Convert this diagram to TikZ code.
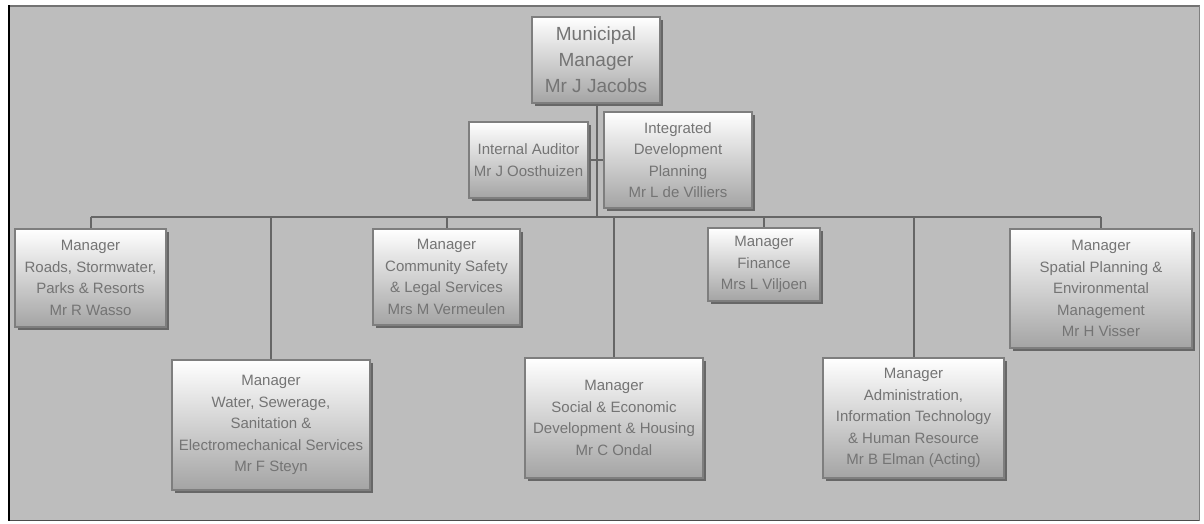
\documentclass[tikz,border=0pt]{standalone}
\usepackage{fontspec}
\setmainfont{Liberation Sans}
\usetikzlibrary{shadows}
\definecolor{panel}{HTML}{BDBDBD}
\definecolor{wire}{HTML}{666666}
\definecolor{boxline}{HTML}{7E7E7E}
\definecolor{boxtext}{HTML}{747474}
\definecolor{boxbottom}{HTML}{A4A4A4}
\tikzset{
  post/.style={draw=boxline, line width=1.2pt, top color=white, bottom color=boxbottom,
    text=boxtext, align=center, inner sep=0pt,
    font=\fontsize{15}{21.5}\selectfont,
    drop shadow={shadow xshift=3pt, shadow yshift=-3pt, fill=black, opacity=.45}},
  link/.style={draw=wire, line width=2pt}
}
\begin{document}
\begin{tikzpicture}[x=1pt, y=-1pt]
\useasboundingbox (0,0) rectangle (1204,523);
% panel behind the chart
\fill[white] (0,0) rectangle (1204,523);
\fill[panel] (9,6) rectangle (1200,521);
\draw[black!55, line width=2pt] (9,6) -- (1200,6);
\draw[black!70, line width=1pt] (9,520.5) -- (1200,520.5);
\draw[black!50, line width=0.6pt] (1199.5,6) -- (1199.5,521);
\draw[black, line width=2.2pt] (9,5) -- (9,521);

% connectors (drawn first so the boxes sit on top)
\coordinate (bus) at (597,217);
\coordinate (staff) at (597,160);

% top level
\node[post, minimum width=128pt, minimum height=86pt,
      font=\fontsize{19}{26}\selectfont] (mm) at (596,60)
      {Municipal\\Manager\\Mr J Jacobs};
\node[post, minimum width=119pt, minimum height=76pt] (aud) at (528.5,160)
      {Internal Auditor\\Mr J Oosthuizen};
\node[post, minimum width=148pt, minimum height=96pt] (idp) at (678,160)
      {Integrated\\Development\\Planning\\Mr L de Villiers};

% directorates
\node[post, minimum width=151pt, minimum height=98pt] (roads) at (90.5,278)
      {Manager\\Roads, Stormwater,\\Parks \& Resorts\\Mr R Wasso};
\node[post, minimum width=198pt, minimum height=130pt] (water) at (271,425)
      {Manager\\Water, Sewerage,\\Sanitation \&\\Electromechanical Services\\Mr F Steyn};
\node[post, minimum width=147pt, minimum height=96pt] (comm) at (446.5,277)
      {Manager\\Community Safety\\\& Legal Services\\Mrs M Vermeulen};
\node[post, minimum width=178pt, minimum height=120pt] (social) at (614,418)
      {Manager\\Social \& Economic\\Development \& Housing\\Mr C Ondal};
\node[post, minimum width=112pt, minimum height=73pt] (fin) at (764,264.5)
      {Manager\\Finance\\Mrs L Viljoen};
\node[post, minimum width=181pt, minimum height=120pt] (admin) at (913.5,418)
      {Manager\\Administration,\\Information Technology\\\& Human Resource\\Mr B Elman (Acting)};
\node[post, minimum width=182pt, minimum height=119pt] (spatial) at (1101,288.5)
      {Manager\\Spatial Planning \&\\Environmental\\Management\\Mr H Visser};

% reporting lines
\draw[link] (mm.south -| bus) -- (bus);
\draw[link] (aud.east) -- (staff) -- (idp.west);
\draw[link] (roads.north |- bus) -- (spatial.north |- bus);
\foreach \n in {roads,water,comm,social,fin,admin,spatial}
  \draw[link] (\n.north |- bus) -- (\n.north);
\end{tikzpicture}
\end{document}
